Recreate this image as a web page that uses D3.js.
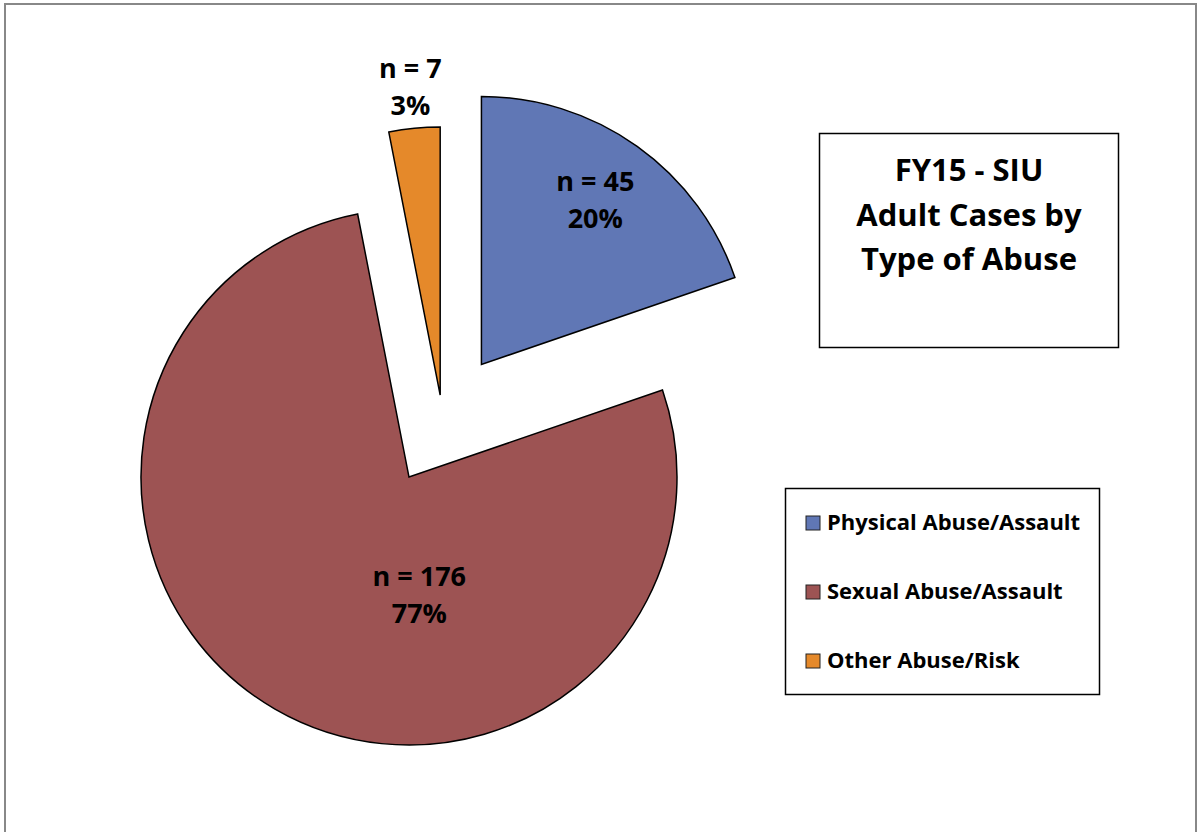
<!DOCTYPE html>
<html>
<head>
<meta charset="utf-8">
<script src="https://cdn.jsdelivr.net/npm/d3@7"></script>
<style>
  html, body { margin: 0; padding: 0; background: #fff; }
  svg { display: block; font-family: "Open Sans", Lato, sans-serif; font-weight: bold; }
</style>
</head>
<body>
<div id="chart"></div>
<script>
// data
const categories = ["Physical Abuse/Assault", "Sexual Abuse/Assault", "Other Abuse/Risk"];
const counts = [45, 176, 7];
const percentLabels = ["20%", "77%", "3%"];
const colors = ["#6077b5", "#9d5353", "#e5892a"];
const explode = [67, 67, 24];          // px each slice is pulled out
const titleLines = ["FY15 - SIU", "Adult Cases by", "Type of Abuse"];

const W = 1198, H = 832;
const radius = 268;
const cx = 442.5, cy = 419;

const svg = d3.select("#chart").append("svg")
  .attr("width", W)
  .attr("height", H);

// outer chart frame
svg.append("rect")
  .attr("x", 5).attr("y", 4)
  .attr("width", W - 7).attr("height", H + 10)
  .attr("fill", "#fff")
  .attr("stroke", "#888")
  .attr("stroke-width", 2);

const pie = d3.pie().sort(null).value(d => d)(counts);
const arc = d3.arc().innerRadius(0).outerRadius(radius);

const pieG = svg.append("g").attr("transform", `translate(${cx},${cy})`);

const slices = pieG.selectAll("g.slice")
  .data(pie)
  .enter()
  .append("g")
  .attr("class", "slice")
  .attr("transform", (d, i) => {
    const a = (d.startAngle + d.endAngle) / 2;
    return `translate(${Math.sin(a) * explode[i]},${-Math.cos(a) * explode[i]})`;
  });

slices.append("path")
  .attr("d", arc)
  .attr("fill", (d, i) => colors[i])
  .attr("stroke", "#000")
  .attr("stroke-width", 1.5)
  .attr("stroke-linejoin", "miter");

// label placement: distance from slice tip, and angle (null = bisector)
const labelR = [200, 118, 310];
const labelAngleDeg = [34.7, 175, null];

slices.each(function (d, i) {
  const a = labelAngleDeg[i] == null ? (d.startAngle + d.endAngle) / 2 : labelAngleDeg[i] * Math.PI / 180;
  const lx = Math.sin(a) * labelR[i];
  const ly = -Math.cos(a) * labelR[i];
  const t = d3.select(this).append("text")
    .attr("text-anchor", "middle")
    .attr("font-size", 27)
    .attr("fill", "#000");
  t.append("tspan").attr("x", lx).attr("y", ly - 9).text(`n = ${counts[i]}`);
  t.append("tspan").attr("x", lx).attr("y", ly + 28).text(percentLabels[i]);
});

// title box
const title = svg.append("g");
title.append("rect")
  .attr("x", 819.5).attr("y", 133.5)
  .attr("width", 299).attr("height", 214)
  .attr("fill", "#fff")
  .attr("stroke", "#000")
  .attr("stroke-width", 1.5);
title.append("text")
  .attr("text-anchor", "middle")
  .attr("font-size", 31)
  .selectAll("tspan")
  .data(titleLines)
  .enter()
  .append("tspan")
  .attr("x", 969)
  .attr("y", (d, i) => 181 + i * 44.5)
  .text(d => d);

// legend
const legend = svg.append("g");
legend.append("rect")
  .attr("x", 785.5).attr("y", 488.5)
  .attr("width", 314).attr("height", 206)
  .attr("fill", "#fff")
  .attr("stroke", "#000")
  .attr("stroke-width", 1.5);

const rows = legend.selectAll("g.row")
  .data(categories)
  .enter()
  .append("g")
  .attr("class", "row")
  .attr("transform", (d, i) => `translate(806,${530 + i * 69})`);

rows.append("rect")
  .attr("x", 0).attr("y", -14)
  .attr("width", 14).attr("height", 14)
  .attr("fill", (d, i) => colors[i])
  .attr("stroke", "#222")
  .attr("stroke-width", 1);

rows.append("text")
  .attr("x", 21)
  .attr("y", 0)
  .attr("font-size", 22)
  .text(d => d);
</script>
</body>
</html>
